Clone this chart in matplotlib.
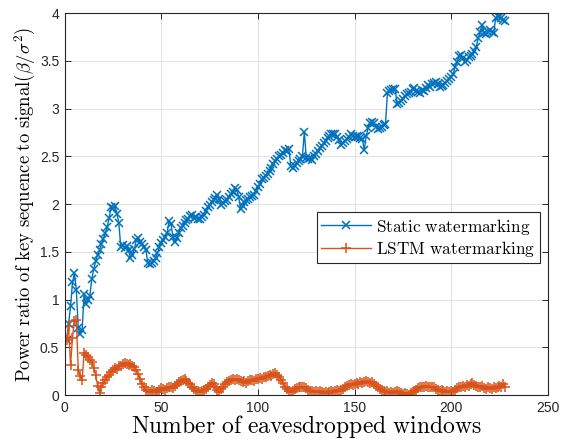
import numpy as np
import matplotlib
matplotlib.use("Agg")
import matplotlib.pyplot as plt

plt.rcParams['mathtext.fontset'] = 'cm'
plt.rcParams['font.family'] = ['Liberation Sans', 'DejaVu Sans']

# windows 1..228
windows = np.arange(1, 229)

static_wm = [
    0.58, 0.75, 0.93, 1.18, 1.28, 1.10, 0.70, 0.64, 0.68, 1.06,
    0.95, 1.00, 1.04, 1.22, 1.32, 1.40, 1.47, 1.52, 1.58, 1.64,
    1.70, 1.76, 1.86, 1.97, 1.96, 1.98, 1.90, 1.80, 1.55, 1.57,
    1.54, 1.56, 1.52, 1.44, 1.47, 1.53, 1.62, 1.65, 1.60, 1.58,
    1.55, 1.52, 1.38, 1.37, 1.38, 1.40, 1.44, 1.49, 1.55, 1.59,
    1.63, 1.66, 1.70, 1.82, 1.79, 1.66, 1.60, 1.65, 1.70, 1.75,
    1.77, 1.80, 1.83, 1.85, 1.88, 1.89, 1.86, 1.87, 1.85, 1.85,
    1.87, 1.89, 1.93, 1.97, 1.99, 2.02, 2.04, 2.06, 2.10, 2.05,
    1.99, 2.01, 2.03, 2.04, 2.07, 2.11, 2.13, 2.17, 2.15, 2.08,
    1.95, 1.98, 2.02, 2.04, 2.05, 2.07, 2.09, 2.10, 2.14, 2.18,
    2.21, 2.26, 2.27, 2.30, 2.32, 2.35, 2.38, 2.42, 2.45, 2.47,
    2.50, 2.52, 2.54, 2.57, 2.56, 2.58, 2.40, 2.38, 2.40, 2.43,
    2.45, 2.47, 2.50, 2.76, 2.48, 2.47, 2.48, 2.46, 2.50, 2.53,
    2.56, 2.59, 2.61, 2.64, 2.66, 2.69, 2.71, 2.73, 2.74, 2.74,
    2.70, 2.67, 2.62, 2.64, 2.66, 2.68, 2.70, 2.73, 2.71, 2.70,
    2.71, 2.70, 2.69, 2.68, 2.57, 2.71, 2.80, 2.85, 2.86, 2.85,
    2.81, 2.79, 2.80, 2.81, 2.83, 2.84, 3.16, 3.19, 3.20, 3.21,
    3.21, 3.05, 3.06, 3.08, 3.10, 3.13, 3.15, 3.16, 3.18, 3.21,
    3.22, 3.19, 3.18, 3.16, 3.20, 3.19, 3.22, 3.25, 3.23, 3.26,
    3.27, 3.28, 3.26, 3.23, 3.24, 3.25, 3.27, 3.29, 3.31, 3.33,
    3.36, 3.44, 3.49, 3.55, 3.56, 3.53, 3.49, 3.51, 3.54, 3.55,
    3.57, 3.60, 3.65, 3.74, 3.80, 3.88, 3.79, 3.78, 3.80, 3.82,
    3.80, 3.79, 3.95, 3.97, 3.96, 3.95, 3.93, 3.92,
]

lstm_wm = [
    0.58, 0.72, 0.32, 0.60, 0.78, 0.79, 0.26, 0.20, 0.16, 0.44,
    0.42, 0.40, 0.37, 0.35, 0.28, 0.21, 0.10, 0.02, 0.09, 0.13,
    0.16, 0.19, 0.21, 0.24, 0.26, 0.28, 0.27, 0.30, 0.31, 0.33,
    0.34, 0.33, 0.32, 0.33, 0.31, 0.29, 0.26, 0.22, 0.17, 0.12,
    0.08, 0.05, 0.04, 0.03, 0.05, 0.04, 0.03, 0.03, 0.05, 0.07,
    0.06, 0.05, 0.07, 0.09, 0.08, 0.07, 0.10, 0.12, 0.14, 0.15,
    0.16, 0.17, 0.15, 0.13, 0.12, 0.09, 0.06, 0.04, 0.04, 0.03,
    0.04, 0.05, 0.06, 0.09, 0.11, 0.13, 0.12, 0.08, 0.05, 0.03,
    0.06, 0.09, 0.12, 0.14, 0.15, 0.16, 0.17, 0.16, 0.17, 0.16,
    0.15, 0.14, 0.15, 0.13, 0.15, 0.16, 0.16, 0.15, 0.17, 0.17,
    0.18, 0.17, 0.19, 0.19, 0.20, 0.21, 0.20, 0.22, 0.23, 0.21,
    0.19, 0.16, 0.13, 0.09, 0.06, 0.04, 0.03, 0.04, 0.06, 0.07,
    0.08, 0.09, 0.09, 0.08, 0.07, 0.05, 0.04, 0.04, 0.03, 0.04,
    0.03, 0.04, 0.03, 0.02, 0.03, 0.02, 0.03, 0.04, 0.03, 0.04,
    0.05, 0.04, 0.05, 0.06, 0.08, 0.10, 0.11, 0.12, 0.11, 0.12,
    0.13, 0.12, 0.14, 0.13, 0.14, 0.15, 0.14, 0.13, 0.14, 0.12,
    0.10, 0.08, 0.06, 0.05, 0.04, 0.03, 0.04, 0.02, 0.03, 0.02,
    0.03, 0.04, 0.03, 0.02, 0.01, 0.02, 0.01, 0.00, 0.02, 0.03,
    0.04, 0.05, 0.07, 0.08, 0.09, 0.08, 0.10, 0.09, 0.08, 0.09,
    0.08, 0.06, 0.05, 0.04, 0.05, 0.04, 0.03, 0.04, 0.03, 0.04,
    0.03, 0.05, 0.07, 0.09, 0.08, 0.10, 0.09, 0.11, 0.10, 0.12,
    0.13, 0.11, 0.10, 0.09, 0.08, 0.10, 0.07, 0.06, 0.08, 0.07,
    0.06, 0.08, 0.07, 0.09, 0.10, 0.09, 0.12, 0.09,
]

x_ticks = [0, 50, 100, 150, 200, 250]
y_ticks = [0, 0.5, 1, 1.5, 2, 2.5, 3, 3.5, 4]


def main():
    dpi = 100
    fig = plt.figure(dpi=dpi, figsize=(563 / dpi, 441 / dpi))
    ax = fig.add_axes([0.115, 0.104, 0.858, 0.866])

    ax.plot(windows, static_wm, color='#0072BD', marker='x', markersize=5.5,
            markeredgewidth=1.1, linewidth=1.0,
            label=r'$\mathrm{Static\ watermarking}$')
    ax.plot(windows, lstm_wm, color='#D95319', marker='+', markersize=7.5,
            markeredgewidth=1.1, linewidth=1.0,
            label=r'$\mathrm{LSTM\ watermarking}$')

    ax.set_xlim(0, 250)
    ax.set_ylim(0, 4)
    ax.set_xticks(x_ticks)
    ax.set_yticks(y_ticks)
    ax.set_yticklabels(['0', '0.5', '1', '1.5', '2', '2.5', '3', '3.5', '4'])
    ax.grid(True, color='#e3e3e3', linewidth=0.8)
    ax.set_axisbelow(True)
    ax.tick_params(direction='in', top=True, right=True, labelsize=10,
                   length=4, width=0.7, colors='#262626', pad=4)
    for sp in ax.spines.values():
        sp.set_color('#262626')
        sp.set_linewidth(0.8)

    ax.set_xlabel(r'$\mathrm{Number\ of\ eavesdropped\ windows}$',
                  fontsize=17, labelpad=-1)
    ax.set_ylabel(r'$\mathrm{Power\ ratio\ of\ key\ sequence\ to\ signal}(\beta/\sigma^2)$',
                  fontsize=13.5, labelpad=1)

    leg = ax.legend(loc='upper left', bbox_to_anchor=(0.522, 0.479),
                    borderaxespad=0, fontsize=12.4, fancybox=False,
                    edgecolor='#262626', framealpha=1, handlelength=2.9,
                    handletextpad=0.3, borderpad=0.25, labelspacing=0.15)
    leg.get_frame().set_linewidth(0.8)

    fig.savefig('out.png', dpi=dpi)


if __name__ == "__main__":
    main()
